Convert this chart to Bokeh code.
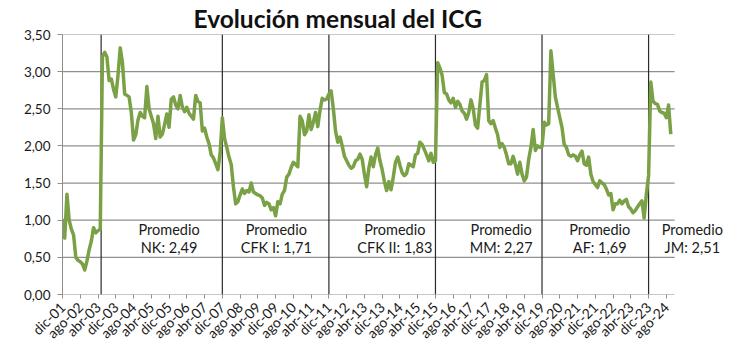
import math
from bokeh.plotting import figure
from bokeh.models import (Range1d, FixedTicker, Label, ColumnDataSource,
                          CustomJSTickFormatter)
from bokeh.embed import file_html
from bokeh.resources import INLINE

# ---- data (monthly ICG, dic-01 .. sep-24) ----
icg = [
    1.02, 0.76, 1.35, 1.00, 0.88, 0.80, 0.50, 0.46, 0.44, 0.41, 0.33, 0.45,
    0.60, 0.72, 0.90, 0.83, 0.86, 0.88, 3.20, 3.26, 3.20, 2.88, 2.90, 2.76,
    2.66, 2.95, 3.32, 3.12, 2.70, 2.68, 2.66, 2.45, 2.08, 2.15, 2.35, 2.45,
    2.40, 2.38, 2.80, 2.50, 2.40, 2.30, 2.10, 2.40, 2.12, 2.16, 2.29, 2.43,
    2.25, 2.63, 2.66, 2.55, 2.50, 2.68, 2.52, 2.46, 2.52, 2.44, 2.40, 2.36,
    2.68, 2.60, 2.58, 2.20, 2.24, 2.12, 2.03, 1.88, 1.84, 1.76, 1.68, 1.90,
    2.38, 2.10, 1.98, 1.85, 1.75, 1.45, 1.22, 1.25, 1.34, 1.42, 1.36, 1.40,
    1.38, 1.50, 1.38, 1.36, 1.34, 1.33, 1.30, 1.20, 1.24, 1.22, 1.14, 1.17,
    1.06, 1.25, 1.22, 1.35, 1.40, 1.58, 1.62, 1.71, 1.78, 1.75, 1.72, 2.40,
    2.34, 2.15, 2.20, 2.42, 2.22, 2.32, 2.45, 2.26, 2.48, 2.64, 2.62, 2.63,
    2.70, 2.74, 2.50, 2.20, 2.05, 2.12, 2.00, 1.86, 1.80, 1.74, 1.70, 1.72,
    1.80, 1.82, 1.89, 1.82, 1.62, 1.45, 1.70, 1.85, 1.72, 1.88, 1.97, 1.80,
    1.68, 1.52, 1.40, 1.52, 1.41, 1.58, 1.78, 1.85, 1.74, 1.64, 1.60, 1.63,
    1.76, 1.74, 1.72, 1.88, 1.90, 2.05, 2.02, 1.95, 1.88, 1.80, 1.90, 1.78,
    1.80, 3.12, 3.05, 2.95, 2.72, 2.70, 2.62, 2.58, 2.64, 2.52, 2.60, 2.56,
    2.47, 2.44, 2.36, 2.45, 2.62, 2.50, 2.28, 2.24, 2.55, 2.86, 2.88, 2.96,
    2.34, 2.30, 2.34, 2.24, 2.15, 1.98, 2.03, 1.98, 1.88, 1.76, 1.76, 1.86,
    1.75, 1.62, 1.78, 1.62, 1.53, 1.58, 1.82, 1.98, 2.22, 1.94, 2.00, 1.98,
    1.99, 2.32, 2.28, 2.30, 3.28, 2.97, 2.66, 2.52, 2.38, 2.25, 2.02, 1.98,
    1.88, 1.86, 1.88, 1.86, 1.80, 1.88, 1.93, 1.76, 1.74, 1.85, 1.62, 1.52,
    1.48, 1.44, 1.53, 1.50, 1.48, 1.42, 1.34, 1.36, 1.14, 1.22, 1.22, 1.27,
    1.22, 1.26, 1.28, 1.18, 1.15, 1.10, 1.13, 1.18, 1.22, 1.26, 1.03, 1.35,
    1.60, 2.86, 2.60, 2.57, 2.56, 2.47, 2.45, 2.44, 2.38, 2.55, 2.16,
]
months = list(range(len(icg)))

tick_labels = [
    "dic-01", "ago-02", "abr-03", "dic-03", "ago-04", "abr-05", "dic-05",
    "ago-06", "abr-07", "dic-07", "ago-08", "abr-09", "dic-09", "ago-10",
    "abr-11", "dic-11", "ago-12", "abr-13", "dic-13", "ago-14", "abr-15",
    "dic-15", "ago-16", "abr-17", "dic-17", "ago-18", "abr-19", "dic-19",
    "ago-20", "abr-21", "dic-21", "ago-22", "abr-23", "dic-23", "ago-24",
]
tick_pos = [8 * k for k in range(len(tick_labels))]
y_ticks = [0, 0.5, 1, 1.5, 2, 2.5, 3, 3.5]
axis_end = 275.7          # last category slot of the original category axis

period_starts = [17.4, 72, 120, 168, 216, 264]
period_names = ["NK", "CFK I", "CFK II", "MM", "AF", "JM"]
period_avgs = [2.49, 1.71, 1.83, 2.27, 1.69, 2.51]
label_x = [48, 96.3, 149.7, 197.6, 242, 283.7]

FONT = "Lato"
GREEN = "#7AA146"
GRID = "#8f8f8f"
TXT = "#1a1a1a"

p = figure(width=728, height=354, output_backend="svg", toolbar_location=None,
           title="Evolución mensual del ICG",
           x_range=Range1d(0, 299.1), y_range=Range1d(0, 3.5),
           min_border_left=62, min_border_right=2, min_border_top=34,
           min_border_bottom=60)
p.outline_line_color = None
p.background_fill_color = "white"
p.border_fill_color = "white"

p.title.align = "left"
p.title.offset = 131
p.title.text_font = FONT
p.title.text_font_size = "24.5px"
p.title.text_font_style = "bold"
p.title.text_color = "#111111"
p.title.standoff = 3

# grid (drawn as segments so it stops at the end of the category axis)
p.xgrid.grid_line_color = None
p.ygrid.grid_line_color = None
p.segment(x0=[0] * len(y_ticks), y0=y_ticks,
          x1=[axis_end] * len(y_ticks), y1=y_ticks,
          line_color=GRID, line_width=1.2)

# y axis
p.yaxis.ticker = FixedTicker(ticks=y_ticks)
p.yaxis.formatter = CustomJSTickFormatter(
    code="return tick.toFixed(2).replace('.', ',');")
p.yaxis.axis_line_color = GRID
p.yaxis.major_tick_line_color = GRID
p.yaxis.major_tick_out = 5
p.yaxis.major_tick_in = 0
p.yaxis.minor_tick_line_color = None
p.yaxis.major_label_text_font = FONT
p.yaxis.major_label_text_font_size = "13.5px"
p.yaxis.major_label_text_color = TXT
p.yaxis.major_label_standoff = 7

# x axis
p.xaxis.ticker = FixedTicker(ticks=tick_pos)
p.xaxis.major_label_overrides = {t: l for t, l in zip(tick_pos, tick_labels)}
p.xaxis.major_label_orientation = math.pi / 4
p.xaxis.axis_line_color = None
p.xaxis.major_tick_line_color = GRID
p.xaxis.major_tick_out = 4
p.xaxis.major_tick_in = 0
p.xaxis.minor_tick_line_color = None
p.xaxis.major_label_text_font = FONT
p.xaxis.major_label_text_font_size = "14px"
p.xaxis.major_label_text_color = TXT
p.xaxis.major_label_standoff = 6

# period separators
p.segment(x0=period_starts, y0=[0] * len(period_starts),
          x1=period_starts, y1=[3.5] * len(period_starts),
          line_color="#2b2b2b", line_width=1.2)

# series
src = ColumnDataSource(dict(x=months, y=icg))
p.line("x", "y", source=src, line_color=GREEN, line_width=3.5,
       line_join="round")

# averages text
for name, avg, lx in zip(period_names, period_avgs, label_x):
    for txt, ty in (("Promedio", 0.87),
                    (f"{name}: {avg:.2f}".replace(".", ","), 0.636)):
        p.add_layout(Label(x=lx, y=ty, text=txt, text_font=FONT,
                           text_font_size="14.5px", text_color=TXT,
                           text_align="center", text_baseline="middle"))

open("out.html", "w").write(file_html(p, INLINE))
